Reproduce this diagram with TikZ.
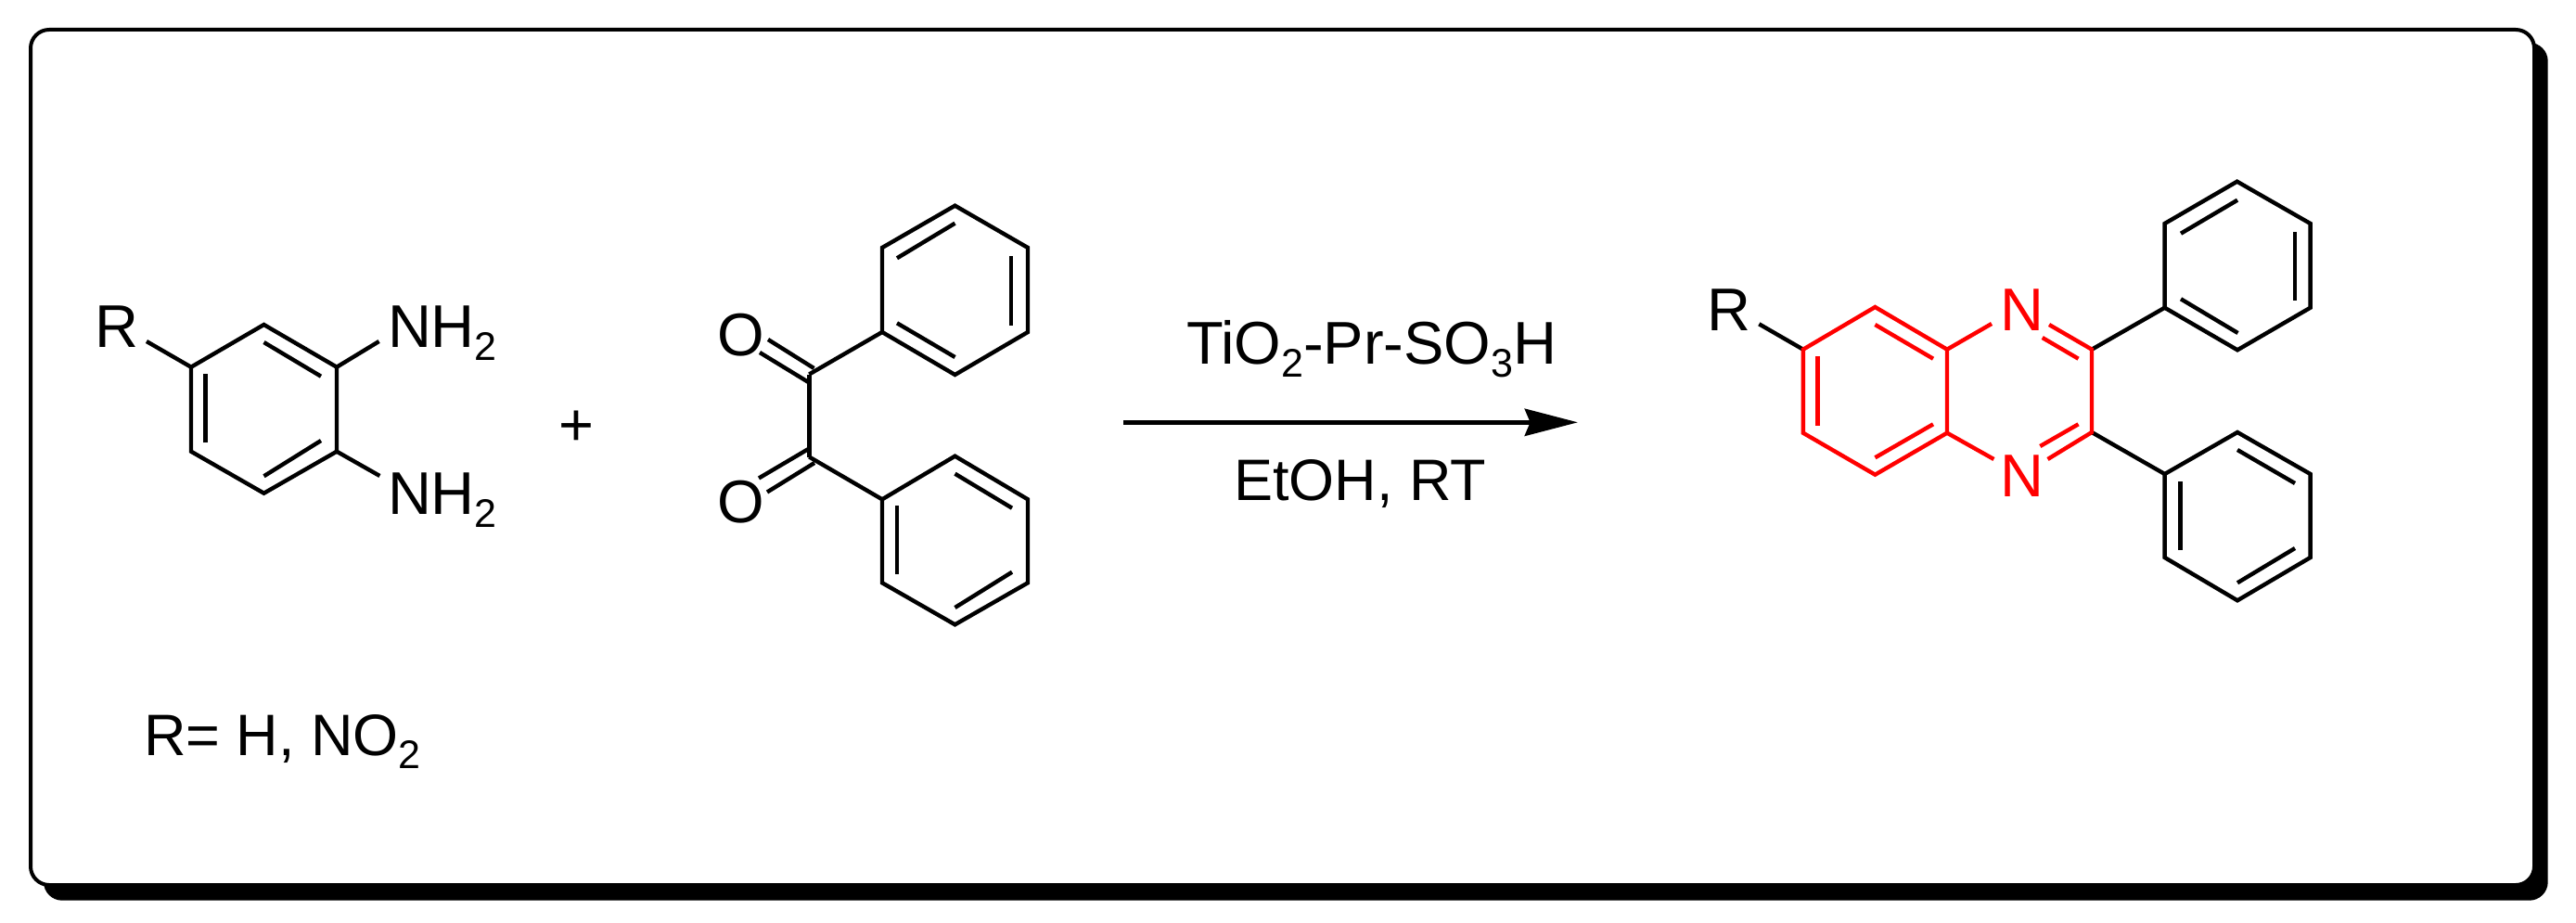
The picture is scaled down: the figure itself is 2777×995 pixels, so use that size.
\documentclass[tikz,border=0pt]{standalone}
\usepackage{fontspec}
\usetikzlibrary{arrows.meta}
\setmainfont{Liberation Sans}
\newcommand\subs[1]{\raisebox{-7pt}{\fontsize{21.5}{22}\selectfont #1}}
\tikzset{
  bond/.style={line width=2.2pt,line join=miter,color=black},
  redbond/.style={line width=2.2pt,line join=miter,color=red},
  atom/.style={anchor=base west,inner sep=0pt,outer sep=0pt,font=\fontsize{32.5}{36}\selectfont},
  redatom/.style={atom,text=red},
  smallatom/.style={atom,font=\fontsize{31.5}{36}\selectfont},
}
\begin{document}
\begin{tikzpicture}[x=0.5pt,y=-0.5pt]
\useasboundingbox (0,0) rectangle (2777,995);
\fill[white] (0,0) rectangle (2777,995);
% frame
\coordinate (sA) at (47,46); \coordinate (sB) at (2746.7,970.7);
\coordinate (fA) at (33,32); \coordinate (fB) at (2732,954);
\fill[black,rounded corners=10pt] (sA) rectangle (sB);
\draw[fill=white,line width=2pt,rounded corners=10pt] (fA) rectangle (fB);

% diamine
\coordinate (a1) at (284.5,350); \coordinate (a2) at (363,395.7); \coordinate (a3) at (363,486.7);
\coordinate (a4) at (284.5,531.7); \coordinate (a5) at (206,486.7); \coordinate (a6) at (206,395.7);
\draw[bond] (a1)--(a2)--(a3)--(a4)--(a5)--(a6)--cycle;
\coordinate (a1i) at (284.5,369); \coordinate (a2i) at (346,405.7);
\coordinate (a3i) at (346,475); \coordinate (a4i) at (284.5,513.3);
\coordinate (a5i) at (221.3,477.3); \coordinate (a6i) at (221.3,403.3);
\draw[bond] (a1i)--(a2i); \draw[bond] (a3i)--(a4i); \draw[bond] (a5i)--(a6i);
\node[atom] (aR) at (102.5,374) {R};
\node[atom] (aN1) at (418,374) {NH\subs{2}};
\node[atom] (aN2) at (418,554) {NH\subs{2}};
\coordinate (aRb) at (158,368); \coordinate (aN1b) at (408.6,368); \coordinate (aN2b) at (409.4,513);
\draw[bond] (a6)--(aRb); \draw[bond] (a2)--(aN1b); \draw[bond] (a3)--(aN2b);

\node[atom,anchor=center] (plus) at (621,462) {+};

% benzil
\coordinate (c1) at (872.3,403.5); \coordinate (c2) at (872.3,492.5);
\draw[bond] (c1)--(c2);
\coordinate (o1a) at (828,366); \coordinate (o1b) at (877.5,397);
\coordinate (o1c) at (819,380); \coordinate (o1d) at (872.3,412.5);
\coordinate (o2a) at (827,530.5); \coordinate (o2b) at (878,499);
\coordinate (o2c) at (818,515.5); \coordinate (o2d) at (872.3,483.5);
\draw[bond] (o1a)--(o1b); \draw[bond] (o1c)--(o1d); \draw[bond] (o2a)--(o2b); \draw[bond] (o2c)--(o2d);
\node[atom] (O1) at (773,383) {O};
\node[atom] (O2) at (773,563) {O};
% upper phenyl
\coordinate (u1) at (1029.5,221.7); \coordinate (u2) at (1108,267); \coordinate (u3) at (1108,358);
\coordinate (u4) at (1029.5,404); \coordinate (u5) at (951,358); \coordinate (u6) at (951,267);
\draw[bond] (u1)--(u2)--(u3)--(u4)--(u5)--(u6)--cycle;
\draw[bond] (c1)--(u5);
\coordinate (u1i) at (1029.5,240.7); \coordinate (u6i) at (967,278.3);
\coordinate (u2i) at (1090,276); \coordinate (u3i) at (1090,350.7);
\coordinate (u5i) at (967,348.3); \coordinate (u4i) at (1029.5,385);
\draw[bond] (u1i)--(u6i); \draw[bond] (u2i)--(u3i); \draw[bond] (u5i)--(u4i);
% lower phenyl
\coordinate (l1) at (1029.5,491.7); \coordinate (l2) at (1108,538.3); \coordinate (l3) at (1108,628.3);
\coordinate (l4) at (1029.5,673.3); \coordinate (l5) at (951,628.3); \coordinate (l6) at (951,538.3);
\draw[bond] (l1)--(l2)--(l3)--(l4)--(l5)--(l6)--cycle;
\draw[bond] (c2)--(l6);
\coordinate (l1i) at (1029.5,510.7); \coordinate (l2i) at (1091,547.7);
\coordinate (l6i) at (967,545); \coordinate (l5i) at (967,619.3);
\coordinate (l3i) at (1091,616.7); \coordinate (l4i) at (1029.5,655);
\draw[bond] (l1i)--(l2i); \draw[bond] (l6i)--(l5i); \draw[bond] (l3i)--(l4i);

% arrow and conditions
\coordinate (arS) at (1211.4,455.3); \coordinate (arE) at (1700.7,455.3);
\draw[line width=2.3pt,-{Stealth[length=28.75pt,width=15pt,inset=3.2pt,line width=0pt]}] (arS)--(arE);
\node[atom] (cat) at (1279,392.7) {TiO\subs{2}-Pr-SO\subs{3}H};
\node[smallatom] (sol) at (1330,539) {EtOH, RT};

\node[smallatom] (Rdef) at (155,814) {R= H, NO\subs{2}};

% product: black parts
\coordinate (p1) at (2021.4,331); \coordinate (p2) at (2099,376.7); \coordinate (p3) at (2099,466.7);
\coordinate (p4) at (2021.4,511.7); \coordinate (p5) at (1943.8,466.7); \coordinate (p6) at (1943.8,376.7);
\coordinate (q2) at (2255,376.7); \coordinate (q3) at (2255,466);
\coordinate (pRb) at (1896.3,349.3);
\draw[bond] (p6)--(pRb);
\node[atom] (pR) at (1840,356.7) {R};
% upper product phenyl
\coordinate (v1) at (2411.6,195.7); \coordinate (v2) at (2490.6,241); \coordinate (v3) at (2490.6,331.7);
\coordinate (v4) at (2412,377.3); \coordinate (v5) at (2333.6,331.7); \coordinate (v6) at (2333.6,241);
\draw[bond] (v1)--(v2)--(v3)--(v4)--(v5)--(v6)--cycle;
\draw[bond] (q2)--(v5);
\coordinate (v1i) at (2412,215.7); \coordinate (v6i) at (2351,251.7);
\coordinate (v2i) at (2474,250); \coordinate (v3i) at (2474,324);
\coordinate (v5i) at (2351,322.3); \coordinate (v4i) at (2412.5,359);
\draw[bond] (v1i)--(v6i); \draw[bond] (v2i)--(v3i); \draw[bond] (v5i)--(v4i);
% lower product phenyl
\coordinate (w1) at (2412,466); \coordinate (w2) at (2490.6,511); \coordinate (w3) at (2490.6,601);
\coordinate (w4) at (2412,647.3); \coordinate (w5) at (2333.6,601); \coordinate (w6) at (2333.6,511);
\draw[bond] (w1)--(w2)--(w3)--(w4)--(w5)--(w6)--cycle;
\draw[bond] (q3)--(w6);
\coordinate (w1i) at (2412,485); \coordinate (w2i) at (2474,521);
\coordinate (w6i) at (2350.5,519); \coordinate (w5i) at (2350.5,592.7);
\coordinate (w3i) at (2474,591); \coordinate (w4i) at (2412,628.3);
\draw[bond] (w1i)--(w2i); \draw[bond] (w6i)--(w5i); \draw[bond] (w3i)--(w4i);

% product: red core
\draw[redbond] (p1)--(p2)--(p3)--(p4)--(p5)--(p6)--cycle;
\coordinate (p1i) at (2021.4,350); \coordinate (p2i) at (2084,386.7);
\coordinate (p6i) at (1959.4,384.3); \coordinate (p5i) at (1959.4,459);
\coordinate (p3i) at (2084,457.3); \coordinate (p4i) at (2021.4,493.3);
\draw[redbond] (p1i)--(p2i); \draw[redbond] (p6i)--(p5i); \draw[redbond] (p3i)--(p4i);
\node[redatom] (N1) at (2156.5,356.7) {N};
\node[redatom] (N2) at (2156.5,535.3) {N};
\coordinate (n1a) at (2147,349); \coordinate (n2a) at (2149.4,495);
\draw[redbond] (p2)--(n1a); \draw[redbond] (p3)--(n2a);
\coordinate (n1b) at (2209,350); \coordinate (n1c) at (2201.7,364); \coordinate (q2i) at (2240.5,386.7);
\coordinate (n2b) at (2207.5,495); \coordinate (n2c) at (2199.3,481); \coordinate (q3i) at (2240.5,457.3);
\draw[redbond] (n1b)--(q2)--(q3)--(n2b);
\draw[redbond] (n1c)--(q2i); \draw[redbond] (n2c)--(q3i);
\end{tikzpicture}
\end{document}
